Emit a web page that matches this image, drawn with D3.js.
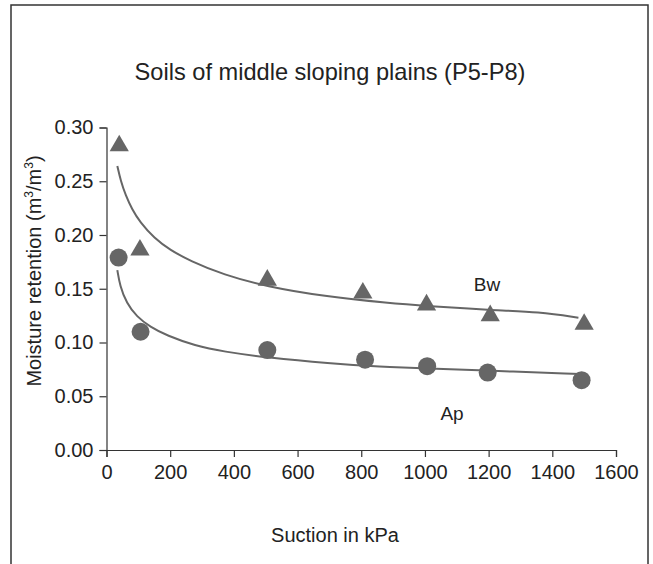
<!DOCTYPE html>
<html>
<head>
<meta charset="utf-8">
<script src="https://cdn.jsdelivr.net/npm/d3@7"></script>
<style>
  html, body { margin: 0; padding: 0; background: #fff; }
  svg { display: block; font-family: "Liberation Sans", Arial, Helvetica, sans-serif; }
</style>
</head>
<body>
<svg id="chart" width="653" height="564"></svg>
<script>
// ---- Data ----
const bwSuction = [40, 105, 505, 805, 1005, 1205, 1500];
const bwMoisture = [0.283, 0.186, 0.158, 0.146, 0.135, 0.125, 0.117];
const apSuction = [38, 107, 505, 812, 1007, 1197, 1492];
const apMoisture = [0.179, 0.110, 0.093, 0.084, 0.078, 0.072, 0.065];

// fitted trend curves
const bwFitSuction = [34, 45, 60, 80, 105, 150, 200, 262, 367, 503, 681, 890, 1006, 1204, 1361, 1482];
const bwFitMoisture = [0.2642, 0.250, 0.237, 0.224, 0.212, 0.197, 0.186, 0.176, 0.163, 0.152, 0.143, 0.1365, 0.134, 0.1302, 0.1285, 0.1231];
const apFitSuction = [34, 42, 63, 95, 137, 189, 278, 367, 503, 700, 859, 1006, 1197, 1487];
const apFitMoisture = [0.1674, 0.153, 0.1365, 0.124, 0.1145, 0.1065, 0.097, 0.0915, 0.086, 0.0805, 0.0775, 0.0758, 0.0738, 0.0707];

const xTicks = [0, 200, 400, 600, 800, 1000, 1200, 1400, 1600];
const yTicks = [0, 0.05, 0.10, 0.15, 0.20, 0.25, 0.30];

const titleText = "Soils of middle sloping plains (P5-P8)";
const xLabel = "Suction in kPa";

// ---- Layout ----
const svg = d3.select("#chart");
const markColor = "#666666";
const axisColor = "#333333";

svg.append("rect")
  .attr("x", 11).attr("y", 5)
  .attr("width", 637).attr("height", 620)
  .attr("fill", "none").attr("stroke", "#333").attr("stroke-width", 1.5);

const x = d3.scaleLinear().domain([0, 1600]).range([106.5, 616]);
const y = d3.scaleLinear().domain([0, 0.30]).range([450, 127.5]);

// Axes
const xAxis = d3.axisBottom(x).tickValues(xTicks).tickSize(7).tickSizeOuter(7).tickPadding(8).tickFormat(d3.format("d"));
const yAxis = d3.axisLeft(y).tickValues(yTicks).tickSize(7).tickSizeOuter(7).tickPadding(6).tickFormat(d3.format(".2f"));

const gx = svg.append("g").attr("transform", `translate(0,${y(0)})`).call(xAxis);
const gy = svg.append("g").attr("transform", `translate(${x(0)},0)`).call(yAxis);
[gx, gy].forEach(g => {
  g.selectAll("path, line").attr("stroke", axisColor).attr("stroke-width", 1.2);
  g.selectAll("text").attr("fill", "#222").style("font-size", "20px").style("font-family", "Liberation Sans, Arial, sans-serif");
});

// Title
svg.append("text")
  .attr("x", 330).attr("y", 80)
  .attr("text-anchor", "middle")
  .attr("fill", "#222")
  .style("font-size", "23.6px")
  .text(titleText);

// X label
svg.append("text")
  .attr("x", 335).attr("y", 542)
  .attr("text-anchor", "middle")
  .attr("fill", "#222")
  .style("font-size", "20px")
  .text(xLabel);

// Y label with superscripts
const yl = svg.append("text")
  .attr("transform", "translate(41,271) rotate(-90)")
  .attr("text-anchor", "middle")
  .attr("fill", "#222")
  .style("font-size", "20px");
yl.append("tspan").text("Moisture retention (m");
yl.append("tspan").attr("dy", -8).style("font-size", "12px").text("3");
yl.append("tspan").attr("dy", 8).text("/m");
yl.append("tspan").attr("dy", -8).style("font-size", "12px").text("3");
yl.append("tspan").attr("dy", 8).text(")");

// Fitted curves
const line = d3.line().x(d => x(d[0])).y(d => y(d[1])).curve(d3.curveBasis);
const bwFit = bwFitSuction.map((s, i) => [s, bwFitMoisture[i]]);
const apFit = apFitSuction.map((s, i) => [s, apFitMoisture[i]]);
[bwFit, apFit].forEach(pts => {
  svg.append("path").datum(pts)
    .attr("d", line)
    .attr("fill", "none")
    .attr("stroke", markColor)
    .attr("stroke-width", 2);
});

// Markers
const bw = bwSuction.map((s, i) => [s, bwMoisture[i]]);
const ap = apSuction.map((s, i) => [s, apMoisture[i]]);
const tri = d3.symbol().type(d3.symbolTriangle).size(160);
svg.append("g").selectAll("path").data(bw).join("path")
  .attr("transform", d => `translate(${x(d[0])},${y(d[1])})`)
  .attr("d", tri)
  .attr("fill", markColor);
svg.append("g").selectAll("circle").data(ap).join("circle")
  .attr("cx", d => x(d[0])).attr("cy", d => y(d[1]))
  .attr("r", 9)
  .attr("fill", markColor);

// Series labels
svg.append("text").attr("x", 487).attr("y", 291).attr("text-anchor", "middle")
  .attr("fill", "#222").style("font-size", "19px").text("Bw");
svg.append("text").attr("x", 452).attr("y", 420).attr("text-anchor", "middle")
  .attr("fill", "#222").style("font-size", "19px").text("Ap");
</script>
</body>
</html>
